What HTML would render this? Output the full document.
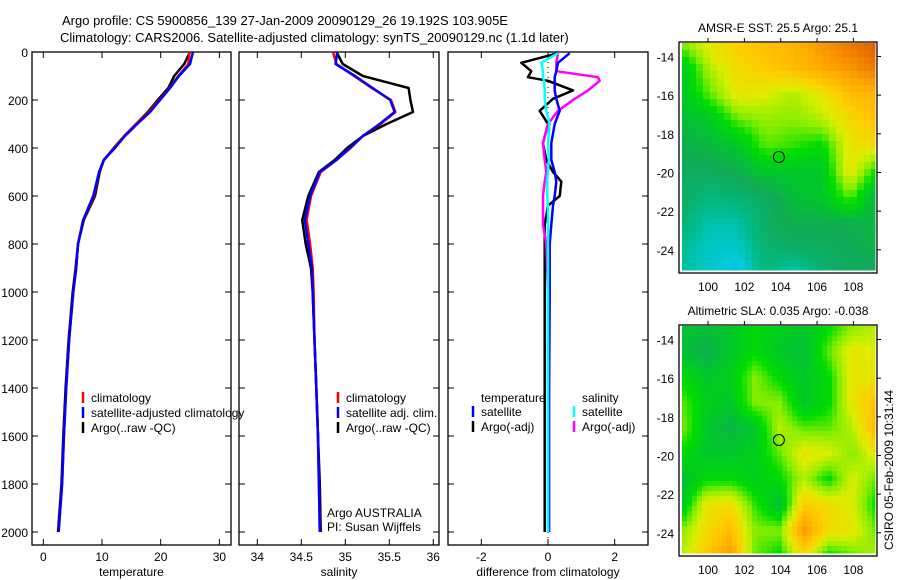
<!DOCTYPE html>
<html><head><meta charset="utf-8"><style>
html,body{margin:0;padding:0;background:#fff;}
svg{display:block;font-family:"Liberation Sans",Arial,sans-serif;}
</style></head><body>
<svg id="fig" width="900" height="580" viewBox="0 0 900 580">
<text x="62" y="25" font-size="13">Argo profile: CS 5900856_139 27-Jan-2009 20090129_26 19.192S 103.905E</text>
<text x="60" y="42" font-size="13">Climatology: CARS2006. Satellite-adjusted climatology: synTS_20090129.nc (1.1d later)</text>
<text transform="translate(893,470) rotate(-90)" text-anchor="middle" font-size="12">CSIRO 05-Feb-2009 10:31:44</text>
</svg>
<script>
// ---- profile data ----
const depth = [0,50,100,150,200,250,300,350,400,450,500,600,700,800,900,1000,1200,1400,1600,1800,2000];
const tempClim = [24.9,24.7,23.0,21.5,19.8,18.0,15.8,13.8,12.1,10.3,9.5,8.6,6.8,5.9,5.6,5.1,4.4,3.9,3.5,3.2,2.6];
const tempSat  = [25.5,25.0,23.1,21.6,19.9,18.2,16.0,13.9,12.2,10.3,9.5,8.5,6.8,5.9,5.6,5.1,4.4,3.9,3.5,3.2,2.6];
const tempArgo = [25.0,24.0,22.3,21.3,19.5,17.8,15.8,13.8,12.0,10.3,9.6,8.8,6.9,5.9,5.5,5.0,4.3,3.8,3.4,3.1,2.5];
const salClim = [34.86,34.90,35.10,35.30,35.52,35.57,35.40,35.20,35.06,34.90,34.72,34.61,34.56,34.60,34.63,34.64,34.65,34.67,34.69,34.70,34.71];
const salSat  = [34.91,34.89,35.11,35.31,35.51,35.56,35.39,35.20,35.05,34.90,34.71,34.60,34.54,34.58,34.62,34.63,34.65,34.67,34.69,34.70,34.71];
const salArgo = [34.90,34.97,35.20,35.72,35.74,35.77,35.47,35.20,35.02,34.88,34.70,34.58,34.51,34.55,34.61,34.63,34.65,34.67,34.69,34.71,34.72];
const dDepth = [5,45,80,105,120,160,195,245,300,380,450,500,540,600,640,720,800,1000,1500,2000];
const dTempArgo = [0.3,-0.8,-0.5,-0.6,0,0.75,0.15,-0.25,0,-0.15,-0.05,0.15,0.4,0.35,0,-0.1,-0.1,-0.1,-0.1,-0.1];
const dTempSat  = [0.65,0.3,0.25,0.2,0.2,0.2,0.25,0.35,0.2,0.1,0.1,0.2,0.25,0.2,0.15,0.1,0.05,0.05,0.03,0.03];
const dSalArgo  = [0.3,0.25,0.25,1.5,1.55,1.2,0.8,0.3,0,-0.15,-0.1,-0.05,-0.1,-0.15,-0.15,-0.15,-0.05,0,0.03,0.03];
const dSalSat   = [0.3,-0.2,-0.15,-0.15,-0.12,-0.1,-0.1,-0.05,0.05,0,0.02,0,-0.03,-0.02,0,0,0,0,0,0];
const depthTicks = [0,200,400,600,800,1000,1200,1400,1600,1800,2000];
const tempTicks = [0,10,20,30];
const salTicks = [34,34.5,35,35.5,36];
const diffTicks = [-2,0,2];
// ---- map data (value 0..1 colour index) ----
const sstGrid = [
[0.62,0.70,0.75,0.78,0.80,0.85,0.90,0.95],
[0.50,0.65,0.72,0.75,0.78,0.82,0.85,0.90],
[0.50,0.60,0.70,0.68,0.65,0.70,0.78,0.80],
[0.48,0.50,0.60,0.63,0.62,0.65,0.72,0.78],
[0.45,0.47,0.50,0.60,0.58,0.55,0.70,0.72],
[0.42,0.43,0.45,0.50,0.50,0.50,0.70,0.55],
[0.42,0.38,0.40,0.42,0.48,0.50,0.60,0.45],
[0.40,0.32,0.33,0.42,0.45,0.45,0.45,0.47],
[0.35,0.30,0.30,0.40,0.42,0.42,0.44,0.46],
[0.33,0.30,0.25,0.38,0.30,0.40,0.42,0.42]];
const slaGrid = [
[0.50,0.48,0.50,0.55,0.52,0.50,0.55,0.62,0.65],
[0.48,0.45,0.50,0.55,0.50,0.48,0.60,0.70,0.68],
[0.55,0.50,0.52,0.62,0.55,0.50,0.55,0.70,0.70],
[0.60,0.52,0.50,0.62,0.62,0.50,0.55,0.70,0.78],
[0.62,0.50,0.46,0.50,0.65,0.60,0.60,0.65,0.80],
[0.55,0.50,0.50,0.52,0.60,0.70,0.68,0.62,0.70],
[0.48,0.55,0.55,0.52,0.55,0.65,0.55,0.68,0.60],
[0.50,0.70,0.72,0.58,0.48,0.75,0.72,0.68,0.55],
[0.62,0.72,0.78,0.62,0.62,0.85,0.72,0.70,0.60],
[0.65,0.75,0.85,0.60,0.55,0.72,0.55,0.60,0.65]];
const lonTicks = [100,102,104,106,108];
const latTicks = [-14,-16,-18,-20,-22,-24];
const argoLon = 103.9, argoLat = -19.2;

const NS='http://www.w3.org/2000/svg';
const svg=document.getElementById('fig');
function mk(tag,attrs,parent){const e=document.createElementNS(NS,tag);for(const k in attrs)e.setAttribute(k,attrs[k]);(parent||svg).appendChild(e);return e;}

const yTop=52, yPx=0.24;
const Y = d => yTop + d*yPx;
function panel(name,x0,x1,xmin,xmax,ticks,fmt,label,showY){
  const g=mk('g',{});
  
  
  const X=v=>x0+(v-xmin)/(xmax-xmin)*(x1-x0);
  const fr=mk('rect',{x:x0,y:52,width:x1-x0,height:493,fill:'none',stroke:'#000','stroke-width':1.3},g);
  
  
  depthTicks.forEach(d=>{
    mk('line',{x1:x0,x2:x0+6,y1:Y(d),y2:Y(d),stroke:'#000'},g);
    mk('line',{x1:x1-6,x2:x1,y1:Y(d),y2:Y(d),stroke:'#000'},g);
    if(showY){const t=mk('text',{x:x0-4,y:Y(d)+5,'text-anchor':'end','font-size':12},g);t.textContent=d;
      
      }
  });
  ticks.forEach(v=>{
    mk('line',{x1:X(v),x2:X(v),y1:52,y2:58,stroke:'#000'},g);
    mk('line',{x1:X(v),x2:X(v),y1:539,y2:545,stroke:'#000'},g);
    const t=mk('text',{x:X(v),y:561,'text-anchor':'middle','font-size':12},g);t.textContent=fmt(v);
    
    
  });
  const l=mk('text',{x:(x0+x1)/2,y:576,'text-anchor':'middle','font-size':12},g);l.textContent=label;
  
  
  return {g,X};
}
function line(p,xs,ds,color,name,w){
  const pts=xs.map((v,i)=>p.X(v).toFixed(1)+','+Y(ds[i]).toFixed(1)).join(' ');
  const e=mk('polyline',{points:pts,fill:'none',stroke:color,'stroke-width':w||2.5,'stroke-linejoin':'round'},p.g);
  
  
}
function legend(g,x,y,color,text,name){
  if(color) mk('line',{x1:x,x2:x,y1:y-10,y2:y+1,stroke:color,'stroke-width':2.5},g);
  const t=mk('text',{x:x+8,y:y,'font-size':12},g);t.textContent=text;
  
  
}
const p1=panel('temperature',32,231,-1.93,31.98,tempTicks,v=>v,'temperature',true);
line(p1,tempArgo,depth,'#000','temp-argo-line');
line(p1,tempClim,depth,'#f00','temp-climatology-line');
line(p1,tempSat,depth,'#00f','temp-satellite-line');
legend(p1.g,83,402,'#f00','climatology','legend-climatology');
legend(p1.g,83,417,'#00f','satellite-adjusted climatology','legend-satellite');
legend(p1.g,83,432,'#000','Argo(..raw -QC)','legend-argo');

const p2=panel('salinity',239,439,33.792,36.065,salTicks,v=>v,'salinity',false);
line(p2,salArgo,depth,'#000','sal-argo-line');
line(p2,salClim,depth,'#f00','sal-climatology-line');
line(p2,salSat,depth,'#00f','sal-satellite-line');
legend(p2.g,338,402,'#f00','climatology','legend-sal-climatology');
legend(p2.g,338,417,'#00f','satellite adj. clim.','legend-sal-satellite');
legend(p2.g,338,432,'#000','Argo(..raw -QC)','legend-sal-argo');
legend(p2.g,319,517,null,'Argo AUSTRALIA','argo-australia-label');
legend(p2.g,319,531,null,'PI: Susan Wijffels','pi-label');

const p3=panel('difference',448,648,-3,3,diffTicks,v=>v,'difference from climatology',false);
mk('line',{x1:p3.X(0),x2:p3.X(0),y1:52,y2:545,stroke:'#000','stroke-dasharray':'1,4'},p3.g);
line(p3,dTempArgo,dDepth,'#000','diff-temp-argo-line');
line(p3,dSalArgo,dDepth,'#f0f','diff-sal-argo-line');
line(p3,dTempSat,dDepth,'#00f','diff-temp-satellite-line');
line(p3,dSalSat,dDepth,'#0ff','diff-sal-satellite-line');
legend(p3.g,473,402,null,'temperature','legend-temperature-header');
legend(p3.g,473,416,'#00f','satellite','legend-temp-satellite');
legend(p3.g,473,431,'#000','Argo(-adj)','legend-temp-argo');
legend(p3.g,574,402,null,'salinity','legend-salinity-header');
legend(p3.g,574,416,'#0ff','satellite','legend-sal-satellite-diff');
legend(p3.g,574,431,'#f0f','Argo(-adj)','legend-sal-argo-diff');

// ---- maps ----
const stops=[[0.2,[0,136,255]],[0.28,[0,204,221]],[0.36,[0,187,136]],[0.44,[17,170,85]],[0.5,[0,200,40]],[0.56,[0,221,0]],[0.62,[136,238,0]],[0.68,[221,238,0]],[0.75,[255,204,0]],[0.82,[255,170,0]],[0.9,[238,119,0]],[1.0,[187,68,0]]];
function cmap(v){
  if(v<=stops[0][0])return stops[0][1];
  for(let i=1;i<stops.length;i++){if(v<=stops[i][0]){const a=stops[i-1],b=stops[i],t=(v-a[0])/(b[0]-a[0]);return a[1].map((c,k)=>Math.round(c+(b[1][k]-c)*t));}}
  return stops[stops.length-1][1];
}
function sample(grid,fx,fy){
  const R=grid.length,C=grid[0].length;
  const x=Math.min(Math.max(fx*(C-1),0),C-1),y=Math.min(Math.max(fy*(R-1),0),R-1);
  const i=Math.min(Math.floor(y),R-2),j=Math.min(Math.floor(x),C-2),ty=y-i,tx=x-j;
  return grid[i][j]*(1-tx)*(1-ty)+grid[i][j+1]*tx*(1-ty)+grid[i+1][j]*(1-tx)*ty+grid[i+1][j+1]*tx*ty;
}
function map(name,grid,top,title,cell,rightTicks){
  const g=mk('g',{});
  
  
  const x0=679,x1=877,y0=top,y1=top+231;
  const lonMin=98.4,lonMax=109.3,latMax=-13.25,latMin=-25.2;
  const LX=l=>x0+(l-lonMin)/(lonMax-lonMin)*(x1-x0);
  const LY=l=>y0+(latMax-l)/(latMax-latMin)*(y1-y0);
  const ix0=682,ix1=875,iy0=y0+1,iy1=y1-3;
  const nx=Math.ceil((ix1-ix0)/cell),ny=Math.ceil((iy1-iy0)/cell);
  for(let r=0;r<ny;r++)for(let c=0;c<nx;c++){
    const v=sample(grid,(c+0.5)/nx,(r+0.5)/ny);
    const col=cmap(v);
    const w=Math.min(cell,ix1-(ix0+c*cell)),h=Math.min(cell,iy1-(iy0+r*cell));
    mk('rect',{x:ix0+c*cell,y:iy0+r*cell,width:w+0.5,height:h+0.5,fill:`rgb(${col})`},g);
  }
  const fr=mk('rect',{x:x0,y:y0,width:x1-x0,height:y1-y0,fill:'none',stroke:'#000','stroke-width':1.3},g);
  
  
  lonTicks.forEach(l=>{
    mk('line',{x1:LX(l),x2:LX(l),y1:y0-4,y2:y0,stroke:'#000'},g);
    const t=mk('text',{x:LX(l),y:y1+18,'text-anchor':'middle','font-size':12},g);t.textContent=l;
    
    
  });
  latTicks.forEach(l=>{
    mk('line',{x1:x1,x2:x1+4,y1:LY(l),y2:LY(l),stroke:'#000'},g);
    const t=mk('text',{x:x0-5,y:LY(l)+5,'text-anchor':'end','font-size':12},g);t.textContent=l;
    
    
  });
  const c=mk('circle',{cx:LX(argoLon),cy:LY(argoLat),r:5.5,fill:'none',stroke:'#000','stroke-width':1},g);
  
  
  const t=mk('text',{x:(x0+x1)/2,y:y0-10,'text-anchor':'middle','font-size':12},g);t.textContent=title;
  
  
}
map('sst-map',sstGrid,42,'AMSR-E SST: 25.5 Argo: 25.1',7);
map('sla-map',slaGrid,325,'Altimetric SLA: 0.035 Argo: -0.038',5);
</script>
</body></html>
